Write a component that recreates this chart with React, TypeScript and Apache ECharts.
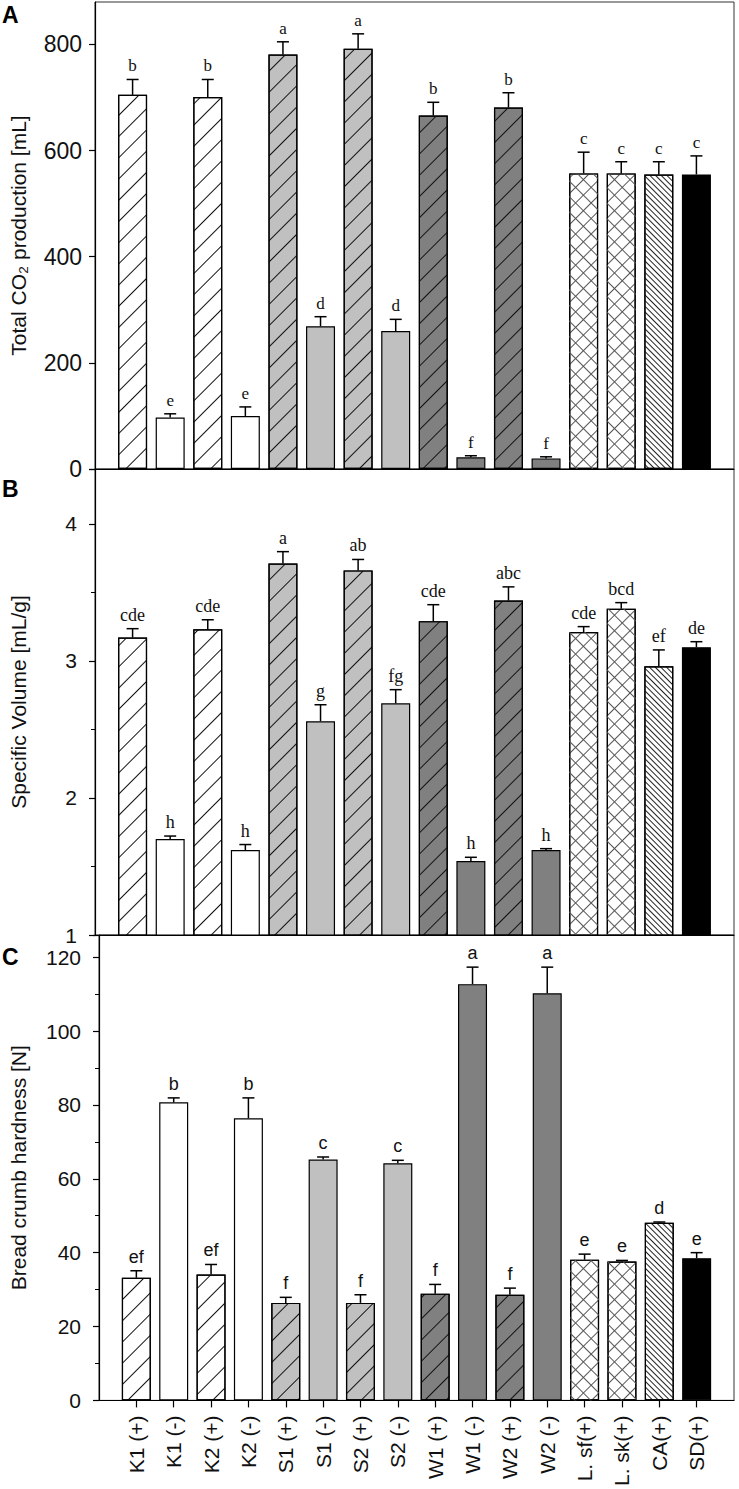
import React, { useEffect, useRef } from 'react';
import * as echarts from 'echarts';

const categories = ['K1 (+)', 'K1 (-)', 'K2 (+)', 'K2 (-)', 'S1 (+)', 'S1 (-)', 'S2 (+)', 'S2 (-)', 'W1 (+)', 'W1 (-)', 'W2 (+)', 'W2 (-)', 'L. sf(+)', 'L. sk(+)', 'CA(+)', 'SD(+)'];

const co2Values = [705, 97, 701, 100, 781, 269, 792, 260, 666, 22, 681, 20, 557, 557, 555, 555];
const co2Errors = [29, 7, 33, 17, 24, 18, 28, 22, 25, 3, 28, 3, 40, 22, 24, 35];
const co2Letters = ['b', 'e', 'b', 'e', 'a', 'd', 'a', 'd', 'b', 'f', 'b', 'f', 'c', 'c', 'c', 'c'];

const volValues = [3.17, 1.70, 3.23, 1.62, 3.71, 2.56, 3.66, 2.69, 3.29, 1.54, 3.44, 1.62, 3.21, 3.38, 2.96, 3.10];
const volErrors = [0.065, 0.022, 0.07, 0.04, 0.087, 0.12, 0.08, 0.10, 0.12, 0.027, 0.10, 0.01, 0.04, 0.045, 0.12, 0.04];
const volLetters = ['cde', 'h', 'cde', 'h', 'a', 'g', 'ab', 'fg', 'cde', 'h', 'abc', 'h', 'cde', 'bcd', 'ef', 'de'];

const hardValues = [33.2, 80.7, 34.1, 76.4, 26.4, 65.2, 26.4, 64.2, 28.9, 112.7, 28.6, 110.2, 38.1, 37.6, 48.1, 38.5];
const hardErrors = [1.9, 1.2, 2.7, 5.5, 1.5, 0.7, 2.2, 0.8, 2.5, 4.6, 1.8, 7.1, 1.5, 0.3, 0.2, 1.5];
const hardLetters = ['ef', 'b', 'ef', 'b', 'f', 'c', 'f', 'c', 'f', 'a', 'f', 'a', 'e', 'e', 'd', 'e'];

// styles (not data)
const fillKinds = ['hatch', 'plain', 'hatch', 'plain', 'hatch', 'plain', 'hatch', 'plain', 'hatch', 'plain', 'hatch', 'plain', 'cross', 'cross', 'dense', 'solid'];
const fillColors = ['#ffffff', '#ffffff', '#ffffff', '#ffffff', '#c0c0c0', '#c0c0c0', '#c0c0c0', '#c0c0c0', '#808080', '#808080', '#808080', '#808080', '#ffffff', '#ffffff', '#ffffff', '#000000'];

const axisCats = ['', ...categories, ''];
const SANS = 'Liberation Sans, Arial, sans-serif';
const SERIF = 'Liberation Serif, Times New Roman, serif';

const ROT_SLASH = -Math.PI / 4;
const ROT_BACK = Math.PI / 4;

function decalFor(kind: string, primary: boolean): any {
  if (kind === 'hatch') {
    return { symbol: 'rect', symbolSize: 1, color: '#111', dashArrayX: [1, 0], dashArrayY: [1, 14], rotation: ROT_SLASH };
  }
  if (kind === 'cross') {
    return { symbol: 'rect', symbolSize: 1, color: '#555', dashArrayX: [1, 0], dashArrayY: [1, 10], rotation: primary ? ROT_SLASH : ROT_BACK };
  }
  if (kind === 'dense') {
    return { symbol: 'rect', symbolSize: 1, color: '#222', dashArrayX: [1, 0], dashArrayY: [1, 3], rotation: ROT_BACK };
  }
  return 'none';
}

function barData(values: number[]) {
  return values.map((v, i) => {
    const kind = fillKinds[i];
    const item: any = {
      value: [i + 1, v],
      itemStyle: { color: fillColors[i], borderColor: '#000', borderWidth: 1.2 },
    };
    const d = decalFor(kind, true);
    if (d !== 'none') item.itemStyle.decal = d;
    return item;
  });
}

function overlayData(values: number[]) {
  const out: any[] = [];
  values.forEach((v, i) => {
    if (fillKinds[i] === 'cross') {
      out.push({
        value: [i + 1, v],
        itemStyle: { color: 'rgba(0,0,0,0)', borderWidth: 0, decal: decalFor('cross', false) },
      });
    }
  });
  return out;
}

function errorSeries(idx: number, values: number[], errors: number[], letters: string[], font: string, size: number) {
  return {
    type: 'custom',
    xAxisIndex: idx,
    yAxisIndex: idx,
    z: 5,
    data: values.map((v, i) => [i + 1, v, errors[i]]),
    renderItem: (params: any, api: any) => {
      const x = api.value(0);
      const v = api.value(1);
      const e = api.value(2);
      const base = api.coord([x, v]);
      const top = api.coord([x, v + e]);
      return {
        type: 'group',
        children: [
          { type: 'line', shape: { x1: base[0], y1: base[1], x2: top[0], y2: top[1] }, style: { stroke: '#000', lineWidth: 1.5 } },
          { type: 'line', shape: { x1: top[0] - 6, y1: top[1], x2: top[0] + 6, y2: top[1] }, style: { stroke: '#000', lineWidth: 1.5 } },
          {
            type: 'text', x: top[0], y: top[1] - 5,
            style: { text: letters[params.dataIndex], fontFamily: font, fontSize: size, fill: '#111', align: 'center', verticalAlign: 'bottom' },
          },
        ],
      };
    },
  };
}

export default function App() {
  const ref = useRef<HTMLDivElement>(null);
  useEffect(() => {
    document.body.style.margin = '0';
    if (!ref.current) return;
    const chart = echarts.init(ref.current, undefined, { renderer: 'svg' });

    const grids = [
      { left: 92, right: 5, top: 2, height: 467 },
      { left: 92, right: 5, top: 469, height: 466 },
      { left: 92, right: 5, top: 935, height: 467 },
    ].map((g) => ({ ...g, show: true, borderColor: '#333', borderWidth: 1, backgroundColor: 'transparent' }));

    const xAxes = [0, 1, 2].map((i) => ({
      type: 'category',
      gridIndex: i,
      data: axisCats,
      boundaryGap: false,
      axisLine: { show: true, lineStyle: { color: '#000', width: 1.2 } },
      axisTick: {
        show: i === 2,
        length: 7,
        interval: (index: number) => index > 0 && index < axisCats.length - 1,
        lineStyle: { color: '#000', width: 1.2 },
      },
      axisLabel: {
        show: i === 2,
        interval: 0,
        rotate: 90,
        margin: 15,
        fontFamily: SANS,
        fontSize: 21,
        color: '#111',
      },
      splitLine: { show: false },
    }));

    const yCommon = {
      type: 'value',
      nameLocation: 'middle',
      nameTextStyle: { fontFamily: SANS, fontSize: 21, color: '#111' },
      axisLine: { show: true, lineStyle: { color: '#000', width: 1.2 } },
      axisTick: { show: true, length: 6, lineStyle: { color: '#000', width: 1.2 } },
      splitLine: { show: false },
    };

    const yAxes = [
      {
        ...yCommon, gridIndex: 0, min: 0, max: 880, interval: 200,
        name: 'Total CO₂ production [mL]', nameGap: 66,
        axisLabel: { fontFamily: SANS, fontSize: 23, color: '#111', margin: 13, showMaxLabel: false },
      },
      {
        ...yCommon, gridIndex: 1, min: 1, max: 4.4, interval: 1,
        name: 'Specific Volume [mL/g]', nameGap: 66,
        minorTick: { show: true, splitNumber: 2, length: 4, lineStyle: { color: '#000' } },
        axisLabel: { fontFamily: SANS, fontSize: 21, color: '#111', margin: 18, showMaxLabel: false },
      },
      {
        ...yCommon, gridIndex: 2, min: 0, max: 126, interval: 20,
        name: 'Bread crumb hardness [N]', nameGap: 70,
        minorTick: { show: true, splitNumber: 2, length: 4, lineStyle: { color: '#000' } },
        axisLabel: { fontFamily: SANS, fontSize: 21, color: '#111', margin: 18, showMaxLabel: false },
      },
    ];

    const panels = [co2Values, volValues, hardValues];
    const series: any[] = [];
    panels.forEach((vals, i) => {
      series.push({ type: 'bar', xAxisIndex: i, yAxisIndex: i, barWidth: 29, data: barData(vals), z: 2 });
      series.push({ type: 'bar', xAxisIndex: i, yAxisIndex: i, barWidth: 29, barGap: '-100%', data: overlayData(vals), z: 3 });
    });
    series.push(errorSeries(0, co2Values, co2Errors, co2Letters, SERIF, 17));
    series.push(errorSeries(1, volValues, volErrors, volLetters, SERIF, 18));
    series.push(errorSeries(2, hardValues, hardErrors, hardLetters, SANS, 18));

    const panelLabel = (t: string, x: number, y: number) => ({
      type: 'text', left: x, top: y,
      style: { text: t, fontFamily: SANS, fontWeight: 'bold', fontSize: 23, fill: '#000' },
    });

    chart.setOption({
      animation: false,
      backgroundColor: '#fff',
      grid: grids,
      xAxis: xAxes,
      yAxis: yAxes,
      series,
      graphic: [panelLabel('A', 2, 3), panelLabel('B', 2, 477), panelLabel('C', 2, 945)],
    });
    return () => chart.dispose();
  }, []);
  return <div ref={ref} style={{ width: 739, height: 1489 }} />;
}
